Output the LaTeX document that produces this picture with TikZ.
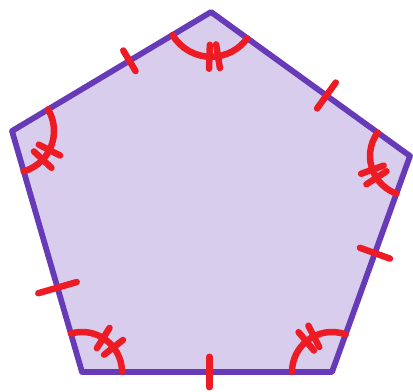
\documentclass[tikz,border=0pt]{standalone}
\usetikzlibrary{calc}
\definecolor{penpurple}{RGB}{103, 58, 183}
\definecolor{penfill}{RGB}{216, 205, 236}
\definecolor{markred}{RGB}{237, 28, 36}
\tikzstyle{pentagon} = [draw=penpurple, fill=penfill, line width=4.1pt, line join=round]
\tikzstyle{redmark} = [draw=markred, line width=4.6pt, line cap=round]
% tick across a side: from, to, position, half length
\newcommand{\sidetick}[4]{%
  \coordinate (tk) at ($(#1)!#3!(#2)$);
  \draw[redmark] ($(tk)!#4!90:(#2)$) -- ($(tk)!#4!-90:(#2)$);}
% angle arc with two ticks: vertex, start, end, radius, tick angles
\newcommand{\anglemark}[6]{%
  \draw[redmark] ($(#1)+(#2:#4)$) arc[start angle=#2, end angle=#3, radius=#4];
  \draw[redmark] ($(#1)+(#5:#4-0.3cm)$) -- ($(#1)+(#5:#4+0.3cm)$);
  \draw[redmark] ($(#1)+(#6:#4-0.3cm)$) -- ($(#1)+(#6:#4+0.3cm)$);}

\begin{document}
\begin{tikzpicture}[x=0.025cm, y=0.025cm]
\useasboundingbox (0,0) rectangle (413,392);

% Vertices
\coordinate (top) at (211,380);
\coordinate (right) at (410,236);
\coordinate (botright) at (332,20);
\coordinate (botleft) at (82,20);
\coordinate (left) at (12,261);

% Pentagon
\draw[pentagon] (top) -- (right) -- (botright) -- (botleft) -- (left) -- cycle;

% Equal sides
\sidetick{top}{left}{0.41}{0.3cm}
\sidetick{top}{right}{0.58}{0.4cm}
\sidetick{right}{botright}{0.45}{0.4cm}
\sidetick{botright}{botleft}{0.49}{0.38cm}
\sidetick{botleft}{left}{0.35}{0.5cm}

% Equal angles
\anglemark{top}{211}{324}{1.12cm}{268}{279}
\anglemark{right}{144}{250}{1.0cm}{200}{213}
\anglemark{botright}{70}{180}{1.0cm}{117}{130}
\anglemark{botleft}{0}{106}{1.0cm}{38}{58}
\anglemark{left}{-74}{31}{1.05cm}{-43}{-27}

\end{tikzpicture}
\end{document}
